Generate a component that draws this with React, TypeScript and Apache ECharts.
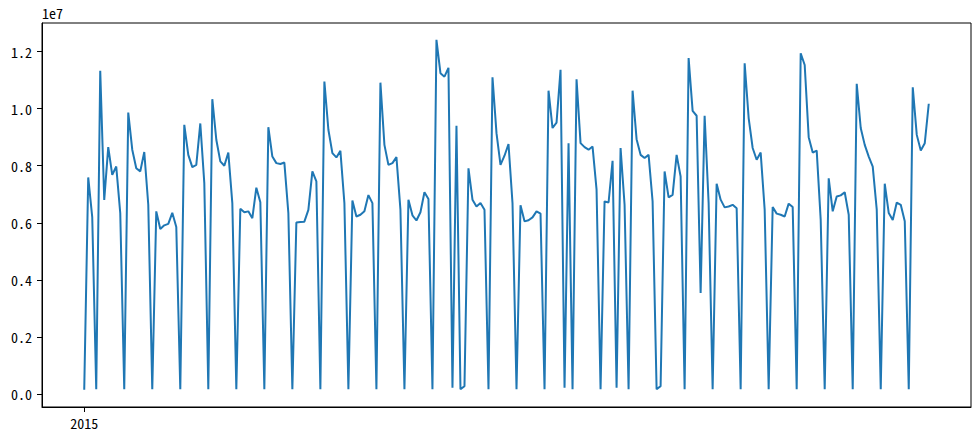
import React, { useEffect, useRef } from "react";
import * as echarts from "echarts";

// Daily totals, starting 2015-01-01, in millions (axis shows units of 1e7)
const startYear = 2015;
const valuesMillions: number[] = [
  0.15, 7.59, 6.2, 0.17, 11.33, 6.8, 8.65, 7.68, 7.97, 6.34,
  0.17, 9.86, 8.56, 7.91, 7.8, 8.48, 6.63, 0.17, 6.4, 5.78,
  5.91, 5.96, 6.35, 5.85, 0.17, 9.43, 8.38, 7.95, 8.03, 9.48,
  7.39, 0.17, 10.33, 8.91, 8.15, 8.0, 8.46, 6.69, 0.17, 6.49,
  6.37, 6.4, 6.16, 7.23, 6.72, 0.17, 9.35, 8.32, 8.09, 8.06,
  8.11, 6.34, 0.17, 6.01, 6.03, 6.04, 6.45, 7.8, 7.45, 0.17,
  10.95, 9.26, 8.44, 8.29, 8.52, 6.69, 0.17, 6.78, 6.22, 6.28,
  6.4, 6.97, 6.69, 0.17, 10.91, 8.73, 8.03, 8.09, 8.3, 6.46,
  0.17, 6.81, 6.26, 6.08, 6.37, 7.07, 6.83, 0.17, 12.41, 11.24,
  11.12, 11.43, 0.22, 9.4, 0.17, 0.27, 7.91, 6.81, 6.57, 6.69,
  6.46, 0.17, 11.1, 9.14, 8.03, 8.35, 8.76, 6.69, 0.17, 6.61,
  6.05, 6.09, 6.19, 6.4, 6.32, 0.17, 10.63, 9.32, 9.51, 11.36,
  0.22, 8.79, 0.17, 11.03, 8.79, 8.65, 8.56, 8.67, 7.16, 0.17,
  6.75, 6.71, 8.17, 0.22, 8.62, 6.63, 0.17, 10.63, 8.93, 8.38,
  8.27, 8.38, 6.75, 0.17, 0.27, 7.8, 6.89, 6.98, 8.38, 7.62,
  0.17, 11.77, 9.92, 9.75, 3.54, 9.75, 6.69, 0.17, 7.37, 6.81,
  6.54, 6.57, 6.63, 6.51, 0.17, 11.59, 9.67, 8.62, 8.21, 8.46,
  6.46, 0.17, 6.55, 6.32, 6.28, 6.22, 6.67, 6.55, 0.17, 11.94,
  11.53, 9.0, 8.46, 8.53, 6.1, 0.17, 7.56, 6.4, 6.92, 6.96,
  7.07, 6.28, 0.17, 10.87, 9.32, 8.73, 8.32, 7.97, 6.46, 0.17,
  7.37, 6.34, 6.1, 6.71, 6.63, 6.05, 0.17, 10.75, 9.08, 8.53,
  8.79, 10.17,
];
const yTickValues: number[] = [0, 2e6, 4e6, 6e6, 8e6, 10e6, 12e6];
const xTickDays: number[] = [0];
const offsetText = "1e7";

const FONT = '"Noto Sans Mono CJK SC", "Noto Sans CJK SC", "DejaVu Sans", sans-serif';

export default function App() {
  const ref = useRef<HTMLDivElement>(null);
  useEffect(() => {
    if (!ref.current) return;
    const chart = echarts.init(ref.current, undefined, { renderer: "svg" });
    const data = valuesMillions.map((v, i) => [i, v * 1e6]);
    const n = valuesMillions.length - 1;
    chart.setOption({
      animation: false,
      grid: {
        left: 42,
        right: 9,
        top: 23,
        bottom: 33,
        show: true,
        borderColor: "#000",
        borderWidth: 1,
        backgroundColor: "transparent",
      },
      graphic: [
        {
          type: "text",
          left: 42,
          top: 6,
          style: { text: offsetText, fontSize: 14, fontFamily: FONT, fill: "#000" },
        },
      ],
      xAxis: {
        type: "value",
        min: -0.05 * n,
        max: n * 1.05,
        axisLine: { show: true, onZero: false, lineStyle: { color: "#000", width: 1 } },
        axisTick: { show: true, length: 5, lineStyle: { color: "#000" }, customValues: xTickDays },
        axisLabel: {
          color: "#000",
          fontSize: 14,
          fontFamily: FONT,
          margin: 9,
          customValues: xTickDays,
          formatter: (v: number) => (Math.abs(v) < 1e-6 ? String(startYear) : ""),
        },
        splitLine: { show: false },
      },
      yAxis: {
        type: "value",
        min: -0.455e6,
        max: 13.0e6,
        axisLine: { show: true, onZero: false, lineStyle: { color: "#000", width: 1 } },
        axisTick: { show: true, length: 5, lineStyle: { color: "#000" }, customValues: yTickValues },
        axisLabel: {
          color: "#000",
          fontSize: 14,
          fontFamily: FONT,
          margin: 10,
          customValues: yTickValues,
          formatter: (v: number) => (v / 1e7).toFixed(1),
        },
        splitLine: { show: false },
      },
      series: [
        {
          type: "line",
          data,
          showSymbol: false,
          symbol: "none",
          lineStyle: { color: "#1f77b4", width: 2 },
          clip: true,
        },
      ],
    });
    return () => chart.dispose();
  }, []);
  return (
    <div
      ref={ref}
      style={{ position: "fixed", left: 0, top: 0, width: 980, height: 440, background: "#fff" }}
    />
  );
}
